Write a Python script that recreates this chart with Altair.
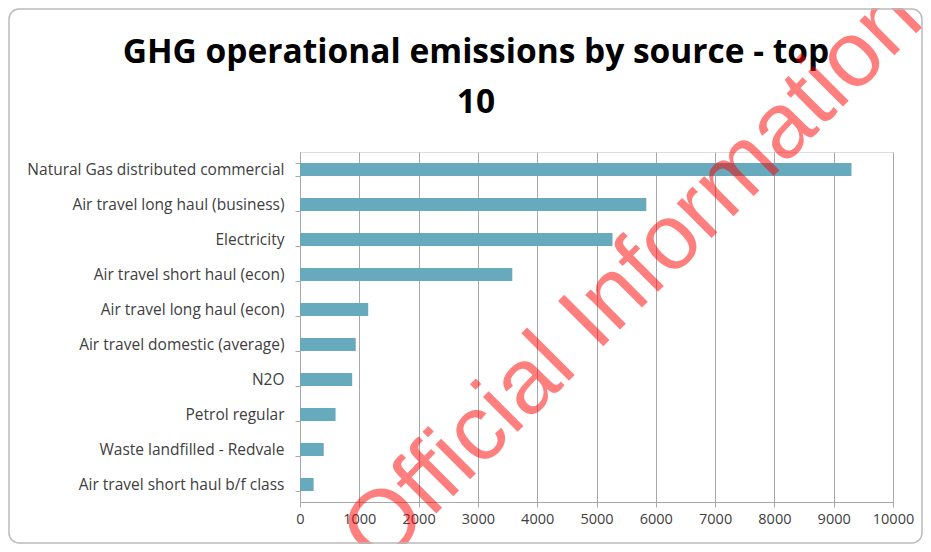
import altair as alt
import pandas as pd

categories = [
    "Natural Gas distributed commercial",
    "Air travel long haul (business)",
    "Electricity",
    "Air travel short haul (econ)",
    "Air travel long haul (econ)",
    "Air travel domestic (average)",
    "N2O",
    "Petrol regular",
    "Waste landfilled - Redvale",
    "Air travel short haul b/f class",
]
values = [9300, 5840, 5270, 3580, 1150, 940, 880, 600, 400, 230]
x_ticks = [0, 1000, 2000, 3000, 4000, 5000, 6000, 7000, 8000, 9000, 10000]
title_lines = ["GHG operational emissions by source - top", "10"]
watermark = ["Official Information"]

df = pd.DataFrame({"source": categories, "value": values})
wm = pd.DataFrame({"t": watermark})
tt = pd.DataFrame({"t": ["\n".join(title_lines)]})

W, H = 593, 350
FONT = "Open Sans"

bars = alt.Chart(df).mark_bar(color="#67AABD").encode(
    x=alt.X("value:Q",
            scale=alt.Scale(domain=[0, 10000], nice=False),
            axis=alt.Axis(values=x_ticks, title=None, grid=True, gridColor="#A8A8A8",
                          gridWidth=1, domainColor="#A8A8A8", tickColor="#A8A8A8",
                          tickSize=5, labelFont=FONT, labelFontSize=14.5, format="d",
                          labelColor="#404040", labelPadding=5, labelFlush=False)),
    y=alt.Y("source:N", sort=categories,
            scale=alt.Scale(paddingInner=0.63, paddingOuter=0.315),
            axis=alt.Axis(title=None, tickBand="extent", domainColor="#A8A8A8",
                          tickColor="#A8A8A8", tickSize=5, labelFont=FONT,
                          labelFontSize=15.5, labelColor="#404040", labelPadding=11,
                          labelLimit=0)),
)

title = alt.Chart(tt).mark_text(
    font=FONT, fontSize=33.5, fontWeight="bold", color="#000000", align="center",
    baseline="alphabetic", lineBreak="\n", lineHeight=50,
).encode(text="t:N", x=alt.value(176), y=alt.value(-89))

wmark = alt.Chart(wm).mark_text(
    font="Liberation Sans", fontSize=93, angle=315, color="#FF0000", opacity=0.5,
    align="center", baseline="middle",
).encode(text="t:N", x=alt.value(333), y=alt.value(125))

border = alt.Chart(wm).mark_rect(
    fillOpacity=0, stroke="#BBBBBB", strokeWidth=1.5, cornerRadius=10,
).encode(x=alt.value(-291), x2=alt.value(622), y=alt.value(-143), y2=alt.value(391))

chart = alt.layer(bars, title, wmark, border).properties(
    width=W, height=H,
    autosize=alt.AutoSizeParams(type="none"),
    padding={"left": 292, "top": 144, "right": 30, "bottom": 42},
).configure_view(stroke=None).configure(background="white")

chart.save("out.html", embed_options={"renderer": "svg", "actions": False})
